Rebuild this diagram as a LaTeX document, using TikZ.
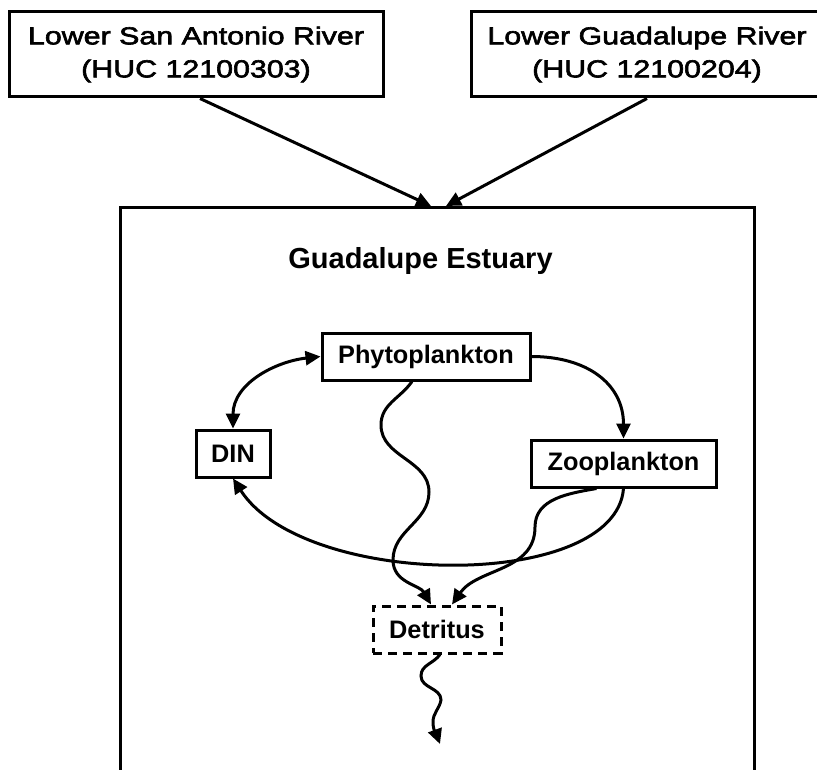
\documentclass[tikz,border=0pt]{standalone}
\usepackage{fontspec}
\setmainfont{Liberation Sans}
\newfontfamily\widefont[FakeStretch=1.24,FakeBold=2.5]{Liberation Sans}
\usetikzlibrary{arrows.meta,calc}
\begin{document}
\begin{tikzpicture}[x=1pt,y=1pt,
  box/.style={draw, line width=3pt, inner sep=0pt, minimum height=47pt,
    font=\bfseries\fontsize{25.3}{30}\selectfont},
  riverbox/.style={draw, line width=3pt, inner sep=0pt, align=center,
    minimum height=85pt, font=\widefont\fontsize{24.5}{33}\selectfont},
  flow/.style={line width=3pt, -{Triangle[length=15pt,width=14pt]}},
  both/.style={line width=3pt, {Triangle[length=15pt,width=14pt]}-{Triangle[length=15pt,width=14pt]}},
]
\useasboundingbox (0,0) rectangle (817,-770);
\fill[white] (0,0) rectangle (817,-770);
\clip (0,0) rectangle (817,-770);

% estuary container (open below the picture)
\node[draw, line width=3pt, inner sep=0pt, minimum width=634pt, minimum height=620pt,
      anchor=north west] (est) at (119,-206) {};
\node[font=\bfseries\fontsize{29}{34}\selectfont, anchor=base] (title) at (420.5,-269) {Guadalupe Estuary};

% river boxes
\node[riverbox, minimum width=374pt] (sa) at (196,-54.5) {Lower San Antonio River\\(HUC 12100303)};
\node[riverbox, minimum width=352pt] (gr) at (647,-54.5) {Lower Guadalupe River\\(HUC 12100204)};

\coordinate (inL) at (431,-206);
\coordinate (inR) at (446,-206);
\draw[flow] ($(sa.south)+(4,0)$) -- (inL);
\draw[flow] (gr.south) -- (inR);

% food web
\node[box, minimum width=208pt] (phyto) at (426,-356.5) {Phytoplankton};
\node[box, minimum width=74pt] (din) at (233,-453.5) {DIN};
\node[box, minimum width=185pt] (zoo) at (623.5,-463.5) {Zooplankton};
\node[box, dash pattern=on 9pt off 6pt, minimum width=128pt] (det) at (437,-629.5) {Detritus};
\coordinate (sink) at (440,-744);

\draw[both] (din.north) .. controls +(0,45) and +(-45,-5) .. (phyto.west);
\draw[flow] (phyto.east) .. controls +(55,0) and +(0,55) .. (zoo.north);
\draw[flow] (zoo.south) .. controls +(-8,-103) and +(72,-111) .. (din.south);

\draw[flow] ($(phyto.south)+(-14,0)$) to[out=235,in=90] (381,-425)
   to[out=270,in=90] (429,-492) to[out=270,in=90] (393,-560)
   to[out=270,in=120] ($(det.north)+(-6,0)$);
\draw[flow] ($(zoo.south)+(-27,0)$) to[out=190,in=90] (535,-527)
   to[out=270,in=55] ($(det.north)+(15,0)$);
\draw[flow] ($(det.south)+(3,0)$) to[out=235,in=90] (421,-676)
   to[out=270,in=90] (441,-700) to[out=260,in=90] (433,-722)
   to[out=270,in=110] (sink);
\end{tikzpicture}
\end{document}
